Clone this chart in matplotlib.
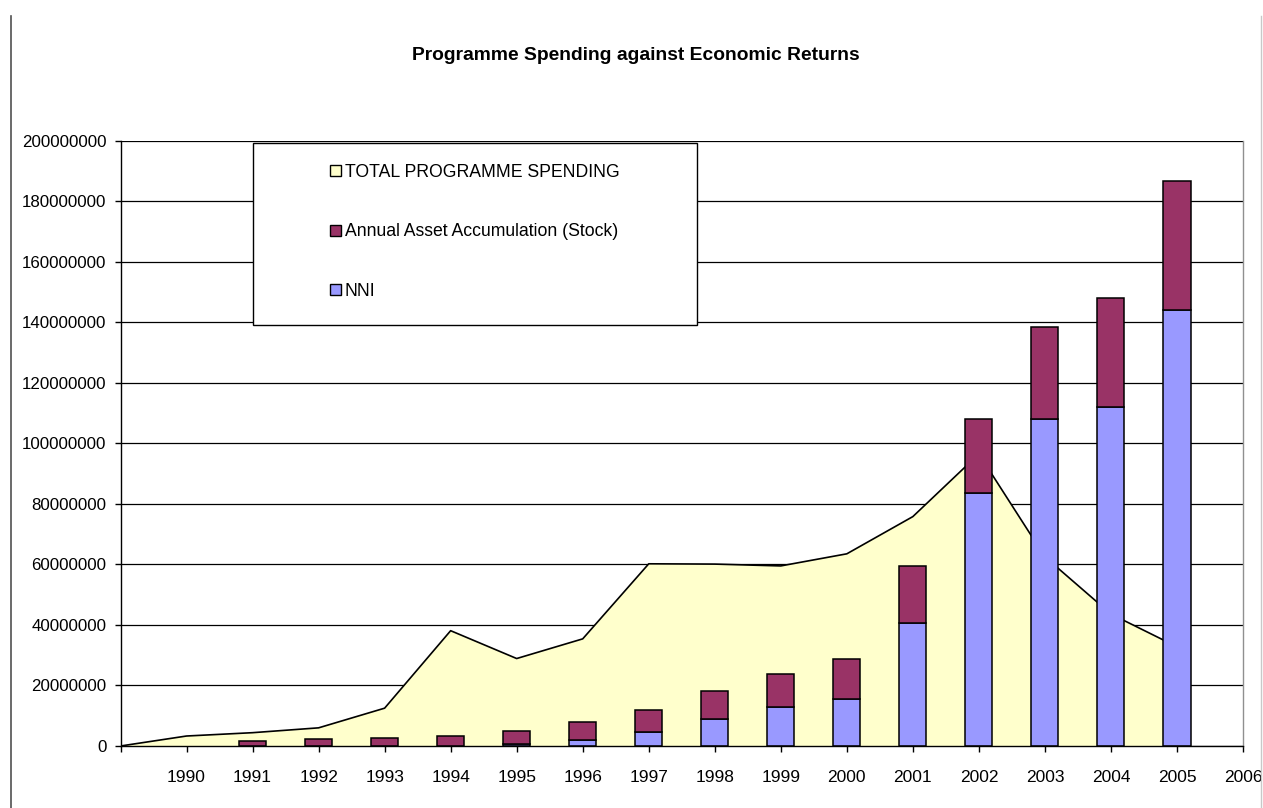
import matplotlib
matplotlib.use("Agg")
import matplotlib.pyplot as plt
from matplotlib.patches import Patch, Rectangle
from matplotlib.lines import Line2D
from matplotlib.ticker import FuncFormatter, MultipleLocator

plt.rcParams['font.family'] = ['Liberation Sans', 'DejaVu Sans']

# Category axis: an unlabeled leading slot, then the years
categories = ['', '1990', '1991', '1992', '1993', '1994', '1995', '1996', '1997',
              '1998', '1999', '2000', '2001', '2002', '2003', '2004', '2005', '2006']

# Total programme spending (area), first slot through 2005
total_spending = [0, 3.3e6, 4.4e6, 6.0e6, 12.5e6, 38.1e6, 28.9e6, 35.4e6, 60.2e6,
                  60.1e6, 59.5e6, 63.5e6, 75.8e6, 96.5e6, 62.5e6, 43.6e6, 32.8e6]

# Stacked columns, 1991-2005
bar_years = ['1991', '1992', '1993', '1994', '1995', '1996', '1997', '1998',
             '1999', '2000', '2001', '2002', '2003', '2004', '2005']
nni = [0, 0, 0, 0, 0.6e6, 2.0e6, 4.7e6, 9.0e6, 12.9e6, 15.5e6, 40.7e6,
       83.6e6, 107.9e6, 112.1e6, 144.2e6]
asset_accumulation = [1.65e6, 2.2e6, 2.75e6, 3.3e6, 4.4e6, 6.0e6, 7.1e6, 9.2e6,
                      10.8e6, 13.4e6, 18.8e6, 24.3e6, 30.5e6, 35.9e6, 42.5e6]

W, H = 1263, 808
fig = plt.figure(figsize=(W / 100, H / 100), dpi=100)
ax = fig.add_axes([120.5 / W, 1 - 746 / H, (1243 - 120.5) / W, (746 - 140.7) / H])

area_x = list(range(len(total_spending)))
ax.fill_between(area_x, 0, total_spending, facecolor='#FFFFCC', edgecolor='none', zorder=2)
ax.plot(area_x, total_spending, color='black', lw=1.2, zorder=3)

bar_x = [categories.index(y) for y in bar_years]
ax.bar(bar_x, nni, width=0.41, color='#9999FF', edgecolor='black', linewidth=1.1, zorder=4)
ax.bar(bar_x, asset_accumulation, bottom=nni, width=0.41, color='#993366',
       edgecolor='black', linewidth=1.1, zorder=4)

ax.set_xlim(0, len(categories) - 1)
ax.set_ylim(0, 200e6)
ax.yaxis.set_major_locator(MultipleLocator(20e6))
ax.yaxis.set_major_formatter(FuncFormatter(lambda v, p: '%d' % round(v)))
ax.set_xticks(range(len(categories)))
ax.set_xticklabels(categories)

ax.grid(axis='y', color='black', lw=0.9, zorder=1)
ax.set_axisbelow(True)
ax.spines['top'].set_visible(False)
ax.spines['right'].set_color('#909090')
ax.spines['left'].set_color('black')
ax.spines['bottom'].set_color('black')
ax.spines['bottom'].set_zorder(5)
for s in ax.spines.values():
    s.set_linewidth(1.0)

ax.tick_params(axis='y', direction='out', length=4, width=1, pad=6, labelsize=12.2)
ax.tick_params(axis='x', direction='out', length=4, width=1, pad=13, labelsize=12.5)

fig.text(636 / W, 1 - 55 / H, 'Programme Spending against Economic Returns',
         ha='center', va='center', fontsize=13.9, fontweight='bold')

# Legend box
ax.add_patch(Rectangle((253 / W, 1 - 325 / H), (697 - 253) / W, (325 - 143) / H,
                       transform=fig.transFigure, facecolor='white', edgecolor='black',
                       lw=1.0, zorder=6))
handles = [Patch(facecolor='#FFFFCC', edgecolor='black', lw=1.0),
           Patch(facecolor='#993366', edgecolor='black', lw=1.0),
           Patch(facecolor='#9999FF', edgecolor='black', lw=1.0)]
labels = ['TOTAL PROGRAMME SPENDING', 'Annual Asset Accumulation (Stock)', 'NNI']
leg = ax.legend(handles, labels, loc='center left',
                bbox_to_anchor=(330 / W, 1 - 232 / H), bbox_transform=fig.transFigure,
                frameon=False, fontsize=12.7, handlelength=0.6, handleheight=0.6,
                handletextpad=0.25, labelspacing=2.41, borderpad=0, borderaxespad=0)
leg.set_zorder(7)

# Chart-area border
fig.add_artist(Line2D([10.5 / W, 10.5 / W], [0, 1 - 16 / H], color='#505050', lw=1.2))
fig.add_artist(Line2D([1261 / W, 1261 / W], [0, 1 - 16 / H], color='#c8c8c8', lw=1.0))

fig.savefig('out.png', dpi=100)
